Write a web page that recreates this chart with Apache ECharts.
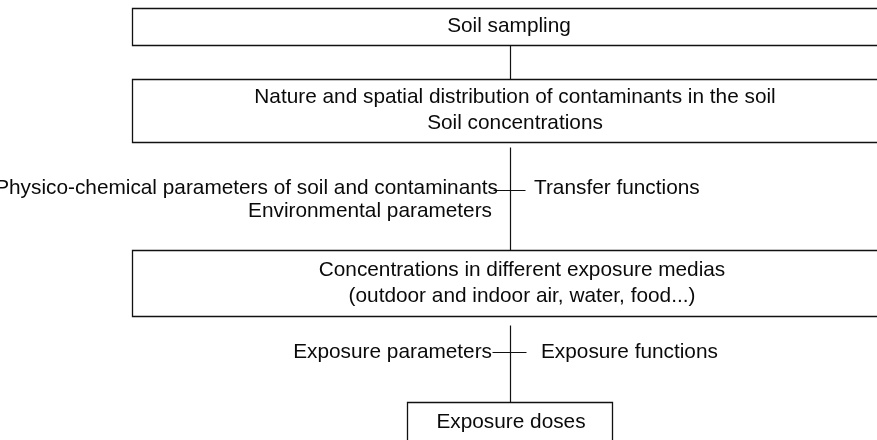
<!DOCTYPE html>
<html lang="en">
<head>
	<meta charset="UTF-8">
	<title>Exposure assessment flowchart</title>
	<script src="https://cdn.jsdelivr.net/npm/echarts@6/dist/echarts.min.js"></script>
	<style>
		html, body { margin: 0; padding: 0; background: #fff; }
		#chart { width: 877px; height: 440px; }
	</style>
</head>
<body>
	<div id="chart"></div>
	<script>
		// boxes (chart units = px of the original figure)
		var boxLabels = [
			'Soil sampling',
			'Nature and spatial distribution of contaminants in the soil\nSoil concentrations',
			'Concentrations in different exposure medias\n(outdoor and indoor air, water, food...)',
			'Exposure doses'
		];
		var boxLeft   = [132, 132, 132, 407];
		var boxRight  = [888, 888, 910, 612];
		var boxTop    = [8, 79, 250, 402];
		var boxBottom = [45, 142, 316, 442];
		var boxTextX  = [509, 515, 522, 511];

		// connectors: vertical main line pieces and the small cross ticks
		var linkX     = [510, 510, 510];
		var linkFrom  = [45, 147, 325];
		var linkTo    = [79, 250, 402];
		var tickY     = [190, 352];
		var tickFrom  = [493, 492];
		var tickTo    = [525, 526];

		// side labels
		var sideLabels = [
			'Physico-chemical parameters of soil and contaminants',
			'Environmental parameters',
			'Transfer functions',
			'Exposure parameters',
			'Exposure functions'
		];
		var sideX     = [498, 492, 534, 492, 541];
		var sideY     = [188, 211, 188, 352, 352];
		var sideAlign = ['right', 'right', 'left', 'right', 'left'];

		var FONT = '"Liberation Sans", Arial, sans-serif';
		var FS = 20.8;

		var boxData = boxLabels.map(function (t, i) {
			return [boxLeft[i], boxTop[i], boxRight[i], boxBottom[i], boxTextX[i], i];
		});
		var segData = [];
		linkX.forEach(function (x, i) { segData.push([x, linkFrom[i], x, linkTo[i]]); });
		tickY.forEach(function (y, i) { segData.push([tickFrom[i], y, tickTo[i], y]); });
		var sideData = sideLabels.map(function (t, i) { return [sideX[i], sideY[i], i]; });

		var chart = echarts.init(document.getElementById('chart'));
		chart.setOption({
			animation: false,
			grid: { left: 0, right: 0, top: 0, bottom: 0 },
			xAxis: { type: 'value', min: 0, max: 877, show: false },
			yAxis: { type: 'value', min: 0, max: 440, inverse: true, show: false },
			series: [
				{
					type: 'custom',
					clip: false,
					data: boxData,
					renderItem: function (params, api) {
						var p0 = api.coord([api.value(0), api.value(1)]);
						var p1 = api.coord([api.value(2), api.value(3)]);
						var c = api.coord([api.value(4), (api.value(1) + api.value(3)) / 2]);
						return {
							type: 'group',
							children: [
								{
									type: 'rect',
									shape: { x: p0[0] + 0.5, y: p0[1] + 0.5, width: p1[0] - p0[0], height: p1[1] - p0[1] },
									style: { fill: 'none', stroke: '#111', lineWidth: 1.3 }
								},
								{
									type: 'text',
									x: c[0], y: c[1],
									style: {
										text: boxLabels[api.value(5)],
										fill: '#0a0a0a', font: FS + 'px ' + FONT,
										align: 'center', verticalAlign: 'middle', lineHeight: 26
									}
								}
							]
						};
					}
				},
				{
					type: 'custom',
					clip: false,
					data: segData,
					renderItem: function (params, api) {
						var a = api.coord([api.value(0), api.value(1)]);
						var b = api.coord([api.value(2), api.value(3)]);
						return {
							type: 'line',
							shape: { x1: a[0] + 0.5, y1: a[1] + 0.5, x2: b[0] + 0.5, y2: b[1] + 0.5 },
							style: { stroke: '#111', lineWidth: 1.2 }
						};
					}
				},
				{
					type: 'custom',
					clip: false,
					data: sideData,
					renderItem: function (params, api) {
						var p = api.coord([api.value(0), api.value(1)]);
						var i = api.value(2);
						return {
							type: 'text',
							x: p[0], y: p[1],
							style: {
								text: sideLabels[i], fill: '#0a0a0a', font: FS + 'px ' + FONT,
								align: sideAlign[i], verticalAlign: 'middle'
							}
						};
					}
				}
			]
		});
	</script>
</body>
</html>
